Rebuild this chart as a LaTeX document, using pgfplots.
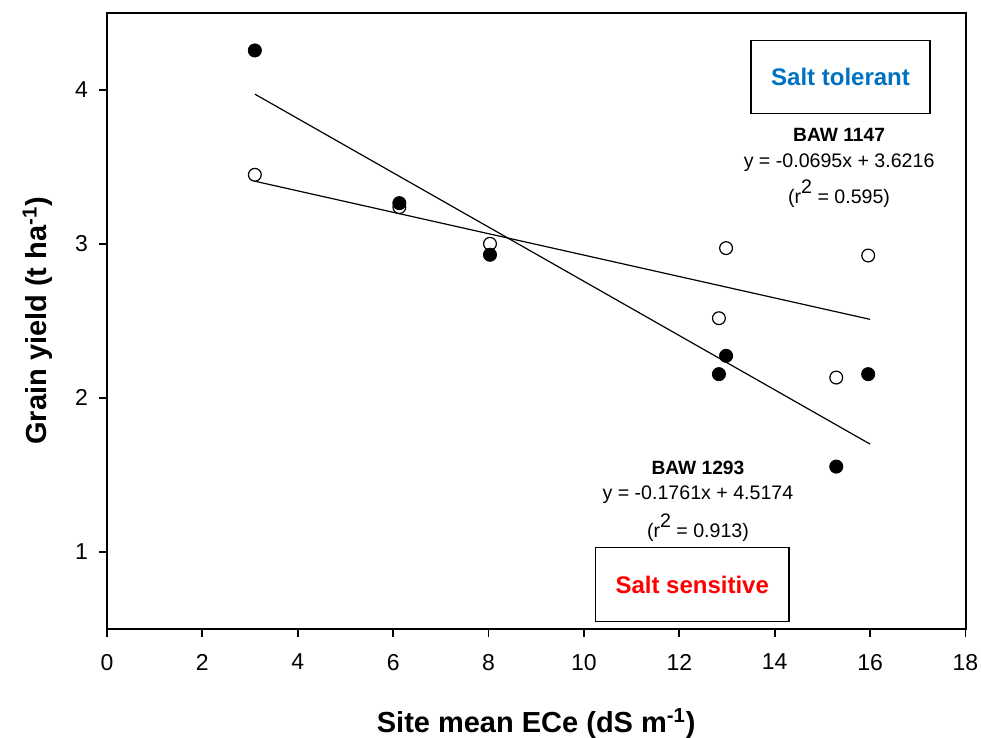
\documentclass[border=0pt]{standalone}
\usepackage{fontspec}
\setmainfont{Liberation Sans}
\usepackage{pgfplots}
\pgfplotsset{compat=1.18}
\definecolor{tolblue}{HTML}{0070C0}
\definecolor{sensred}{HTML}{FF0000}

\begin{document}
\begin{tikzpicture}
\path[use as bounding box] (-53.5pt,-54.5pt) rectangle (437pt,314.5pt);
\begin{axis}[
  at={(0,0)}, anchor=south west,
  scale only axis,
  width=429.25pt, height=308.15pt,
  xmin=0, xmax=18, ymin=0.5, ymax=4.5,
  xtick={0,2,...,18}, ytick={1,2,3,4},
  xtick pos=bottom, ytick pos=left,
  tick align=outside,
  major tick length=4pt,
  every tick/.style={black, line width=0.9pt},
  axis line style={line width=1pt},
  /pgf/number format/assume math mode=true,
  ticklabel style={font=\fontsize{11.5}{13}\selectfont},
  xticklabel style={yshift=-5pt},
  yticklabel style={xshift=-2pt},
  xlabel={Site mean ECe (dS m\textsuperscript{-1})},
  ylabel={Grain yield (t ha\textsuperscript{-1})},
  label style={font=\bfseries\fontsize{14.5}{17}\selectfont},
  xlabel style={at={(axis description cs:0.5,0)}, anchor=base, yshift=-52pt},
  ylabel style={at={(axis description cs:-0.0699,0.5)}, anchor=base},
]
% regression lines
\addplot[black, line width=0.6pt] coordinates {(3.10,3.4062) (16.0,2.5096)};
\addplot[black, line width=0.6pt] coordinates {(3.10,3.9715) (16.0,1.7000)};
% BAW 1147 (open)
\addplot[only marks, mark=*, mark size=3.2pt,
  mark options={fill=white, draw=black, line width=0.6pt}]
  coordinates {(3.10,3.448) (6.13,3.238) (8.03,3.000) (12.83,2.517)
               (12.98,2.972) (15.29,2.132) (15.96,2.924)};
% BAW 1293 (filled)
\addplot[only marks, mark=*, mark size=3.3pt,
  mark options={fill=black, draw=black}]
  coordinates {(3.10,4.255) (6.13,3.264) (8.03,2.929) (12.83,2.154)
               (12.98,2.273) (15.29,1.554) (15.96,2.154)};

\node[draw, line width=0.65pt, minimum width=89.5pt, minimum height=36.5pt,
  text=tolblue, font=\bfseries\fontsize{12}{14}\selectfont]
  at (axis cs:15.38,4.083) {Salt tolerant};
\node[draw, line width=0.65pt, minimum width=96.8pt, minimum height=37pt,
  text=sensred, font=\bfseries\fontsize{12}{14}\selectfont]
  at (axis cs:12.27,0.788) {Salt sensitive};

\node[anchor=base, font=\bfseries\fontsize{9.6}{11}\selectfont] at (axis cs:15.35,3.664) {BAW 1147};
\node[anchor=base, font=\fontsize{9.8}{11}\selectfont] at (axis cs:15.35,3.495) {y = -0.0695x + 3.6216};
\node[anchor=base, font=\fontsize{9.8}{11}\selectfont] at (axis cs:15.35,3.260) {(r\raisebox{0.5em}{2} = 0.595)};

\node[anchor=base, font=\bfseries\fontsize{9.6}{11}\selectfont] at (axis cs:12.39,1.500) {BAW 1293};
\node[anchor=base, font=\fontsize{9.8}{11}\selectfont] at (axis cs:12.39,1.338) {y = -0.1761x + 4.5174};
\node[anchor=base, font=\fontsize{9.8}{11}\selectfont] at (axis cs:12.39,1.095) {(r\raisebox{0.5em}{2} = 0.913)};
\end{axis}
\end{tikzpicture}
\end{document}
